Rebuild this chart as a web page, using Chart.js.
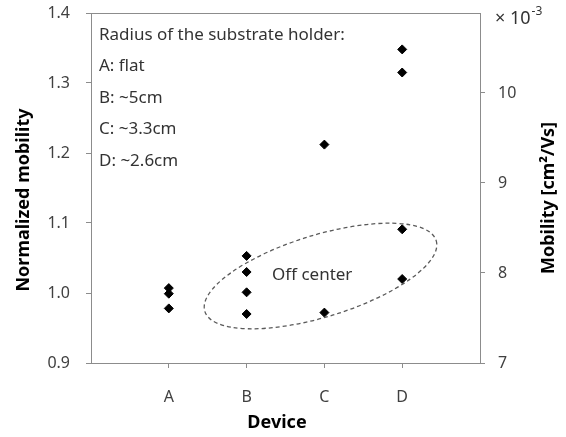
<!DOCTYPE html>
<html>
<head>
<meta charset="utf-8">
<script src="https://cdn.jsdelivr.net/npm/chart.js"></script>
<style>
html, body { margin: 0; padding: 0; background: #fff; }
</style>
</head>
<body>
<canvas id="mobilityChart" width="566" height="437"></canvas>
<script>
// Device categories and normalized mobility per device
const devices = ['A', 'B', 'C', 'D'];
const normA = [1.007, 0.999, 0.978];
const normB = [1.053, 1.030, 1.001, 0.970];
const normC = [1.212, 0.972];
const normD = [1.348, 1.315, 1.091, 1.020];

// Axis ticks
const leftTicks = [0.9, 1.0, 1.1, 1.2, 1.3, 1.4];
const rightTicks = [7, 8, 9, 10];
// mobility (x 10^-3 cm2/Vs) that corresponds to normalized value 1.0
const mobilityRef = 7 / 0.9;

const holderLines = ['Radius of the substrate holder:', 'A: flat', 'B: ~5cm', 'C: ~3.3cm', 'D: ~2.6cm'];

const axisColor = '#8c8c8c';
const textColor = '#404040';
const font = '"Noto Sans", "DejaVu Sans", sans-serif';

// points for the scatter, x = category position 1..4
const allValues = [normA, normB, normC, normD];
const points = [];
allValues.forEach((vals, i) => {
    vals.forEach(v => points.push({ x: i + 1, y: v }));
});

// frame line, dashed "off center" ellipse and the texts
const extrasPlugin = {
    id: 'extras',
    afterDraw(chart) {
        const ctx = chart.ctx;
        const area = chart.chartArea;
        const xs = chart.scales.x;
        const ys = chart.scales.y;

        // top frame line
        ctx.save();
        ctx.strokeStyle = axisColor;
        ctx.lineWidth = 1;
        ctx.beginPath();
        ctx.moveTo(area.left, area.top + 0.5);
        ctx.lineTo(area.right, area.top + 0.5);
        ctx.stroke();

        // ellipse
        const unit = xs.getPixelForValue(1) - xs.getPixelForValue(0);
        const cx = xs.getPixelForValue(2.95);
        const cy = ys.getPixelForValue(1.0243);
        ctx.setLineDash([4, 3]);
        ctx.strokeStyle = '#5a5a5a';
        ctx.lineWidth = 1.3;
        ctx.beginPath();
        ctx.ellipse(cx, cy, 1.555 * unit, 0.527 * unit, -17 * Math.PI / 180, 0, Math.PI * 2);
        ctx.stroke();
        ctx.setLineDash([]);

        // text
        ctx.fillStyle = '#333';
        ctx.textBaseline = 'middle';
        ctx.textAlign = 'left';
        ctx.font = '17px ' + font;
        holderLines.forEach((t, i) => {
            ctx.fillText(t, 99, 35 + i * 31.5);
        });
        ctx.fillText('Off center', 272, 275);

        // x 10^-3
        ctx.font = '18px ' + font;
        ctx.fillText('\u00d7 10', 495, 19);
        const w = ctx.measureText('\u00d7 10').width;
        ctx.font = '12px ' + font;
        ctx.fillText('-3', 495 + w + 1, 12);

        // axis titles
        ctx.fillStyle = '#000';
        ctx.font = 'bold 18px ' + font;
        ctx.textAlign = 'center';
        ctx.fillText('Device', 277, 423);

        ctx.save();
        ctx.translate(24, 200);
        ctx.rotate(-Math.PI / 2);
        ctx.fillText('Normalized mobility', 0, 0);
        ctx.restore();

        ctx.save();
        ctx.translate(549, 198);
        ctx.rotate(-Math.PI / 2);
        ctx.fillText('Mobility [cm\u00b2/Vs]', 0, 0);
        ctx.restore();

        ctx.restore();
    }
};

const noOverhang = s => { s.paddingTop = 0; s.paddingBottom = 0; };

const ctx = document.getElementById('mobilityChart').getContext('2d');
const chart = new Chart(ctx, {
    type: 'scatter',
    data: {
        datasets: [{
            label: 'Normalized mobility',
            data: points,
            pointStyle: 'rectRot',
            pointRadius: 4.5,
            pointHoverRadius: 4.5,
            backgroundColor: '#000',
            borderColor: '#000',
            borderWidth: 1,
            yAxisID: 'y'
        }]
    },
    options: {
        responsive: false,
        animation: false,
        devicePixelRatio: 1,
        layout: { padding: { top: 13, left: 0, right: 0, bottom: 0 } },
        plugins: {
            legend: { display: false },
            tooltip: { enabled: false }
        },
        scales: {
            x: {
                type: 'linear',
                min: 0,
                max: 5,
                afterBuildTicks: s => { s.ticks = devices.map((d, i) => ({ value: i + 1 })); },
                afterFit: s => { s.height = 74; s.paddingLeft = 0; s.paddingRight = 0; },
                ticks: {
                    callback: v => devices[v - 1],
                    color: textColor,
                    font: { family: font, size: 16 },
                    padding: 20,
                    maxRotation: 0
                },
                grid: { drawOnChartArea: false, tickLength: 5, color: axisColor },
                border: { color: axisColor }
            },
            y: {
                position: 'left',
                min: 0.9,
                max: 1.4,
                afterBuildTicks: s => { s.ticks = leftTicks.map(v => ({ value: v })); },
                afterFit: s => { s.width = 91; noOverhang(s); },
                ticks: {
                    callback: v => v.toFixed(1),
                    color: textColor,
                    font: { family: font, size: 16 },
                    padding: 16
                },
                grid: { drawOnChartArea: false, tickLength: 5, color: axisColor },
                border: { color: axisColor }
            },
            y2: {
                type: 'linear',
                position: 'right',
                min: 0.9 * mobilityRef,
                max: 1.4 * mobilityRef,
                afterBuildTicks: s => { s.ticks = rightTicks.map(v => ({ value: v })); },
                afterFit: s => { s.width = 86; noOverhang(s); },
                ticks: {
                    callback: v => String(v),
                    color: textColor,
                    font: { family: font, size: 16 },
                    padding: 13
                },
                grid: { drawOnChartArea: false, tickLength: 5, color: axisColor },
                border: { color: axisColor }
            }
        }
    },
    plugins: [extrasPlugin]
});
</script>
</body>
</html>
